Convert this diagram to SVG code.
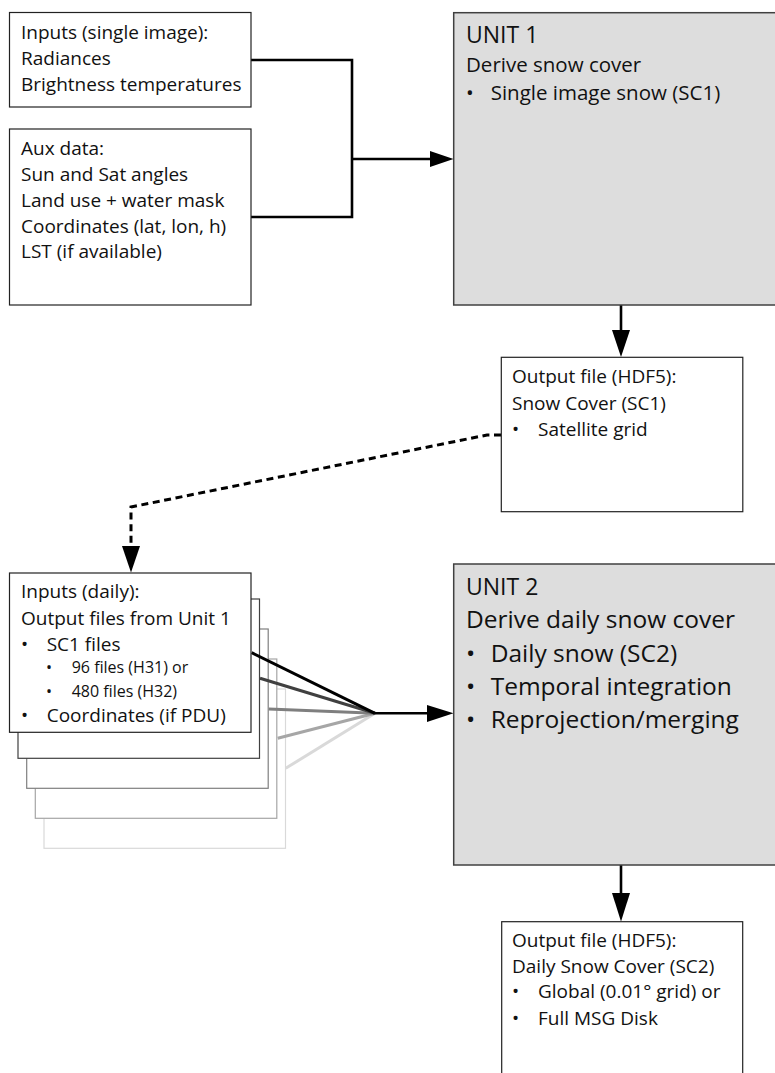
<svg xmlns="http://www.w3.org/2000/svg" width="775" height="1073" viewBox="0 0 775 1073">
<style>
text { font-family: "Open Sans", "Lato", "Liberation Sans", sans-serif; fill: #111; }
.t { font-size: 19px; }
.ts { font-size: 16px; }
.box { fill: #fff; stroke: #222; stroke-width: 1.2; }
.unit { fill: #dddddd; stroke: #404040; stroke-width: 1.5; }
.title { font-size: 23px; }
.u1 { font-size: 20.5px; }
.u2 { font-size: 24.5px; }
.conn { fill: none; stroke: #000; stroke-width: 2.6; }
.dash { fill: none; stroke: #000; stroke-width: 3; stroke-dasharray: 7 4.6; }
.head { fill: #000; }
</style>
<rect width="775" height="1073" fill="#fff"/>

<g id="stack">
  <rect x="44" y="689" width="241.5" height="159.3" fill="#fff" stroke="#d9d9d9" stroke-width="1.2"/>
  <rect x="35.3" y="659" width="241.5" height="159.3" fill="#fff" stroke="#a6a6a6" stroke-width="1.2"/>
  <rect x="26.7" y="629" width="241.5" height="159.3" fill="#fff" stroke="#7f7f7f" stroke-width="1.2"/>
  <rect x="18" y="599" width="241.5" height="159.3" fill="#fff" stroke="#404040" stroke-width="1.2"/>
</g>

<g id="connectors">
  <path class="conn" d="M251,60 H352 V217 H251"/>
  <path class="conn" d="M352,159 H432"/>
  <polygon class="head" points="430,151 453.5,159 430,167"/>
  <path class="conn" d="M621,305 V332"/>
  <polygon class="head" points="612,330 621,357 630,330"/>
  <path class="dash" d="M501,435 H487 L131,507 V548"/>
  <polygon class="head" points="122,546 131,572.5 140,546"/>
  <line x1="285.7" y1="768.3" x2="375" y2="713.3" stroke="#d9d9d9" stroke-width="3"/>
  <line x1="277.7" y1="738.3" x2="375" y2="713.3" stroke="#a6a6a6" stroke-width="3"/>
  <line x1="268.7" y1="709" x2="375" y2="713.3" stroke="#7f7f7f" stroke-width="3"/>
  <line x1="260" y1="678.3" x2="375" y2="713.3" stroke="#404040" stroke-width="3"/>
  <line x1="251.7" y1="652.7" x2="375" y2="713.3" stroke="#000" stroke-width="3"/>
  <path class="conn" d="M375,713.3 H430"/>
  <polygon class="head" points="427,705 453.5,713.3 427,722"/>
  <path class="conn" d="M621,865 V895"/>
  <polygon class="head" points="612,893 621,921.5 630,893"/>
</g>

<g id="inputs-single">
  <rect class="box" x="9.5" y="12.5" width="241.5" height="94.5"/>
  <text class="t" x="21" y="39">Inputs (single image):</text>
  <text class="t" x="21" y="65">Radiances</text>
  <text class="t" x="21" y="90.7">Brightness temperatures</text>
</g>

<g id="aux-data">
  <rect class="box" x="9.5" y="129" width="241.5" height="176"/>
  <text class="t" x="21" y="155">Aux data:</text>
  <text class="t" x="21" y="181">Sun and Sat angles</text>
  <text class="t" x="21" y="207">Land use + water mask</text>
  <text class="t" x="21" y="232.5">Coordinates (lat, lon, h)</text>
  <text class="t" x="21" y="258">LST (if available)</text>
</g>

<g id="unit1">
  <rect class="unit" x="453.7" y="12.7" width="330" height="292.3"/>
  <text class="title" x="466" y="43">UNIT 1</text>
  <text class="u1" x="466" y="72">Derive snow cover</text>
  <text class="u1" x="466" y="99.5">•</text>
  <text class="u1" x="490.7" y="99.5">Single image snow (SC1)</text>
</g>

<g id="output1">
  <rect class="box" x="501.3" y="357.3" width="241.5" height="154.4"/>
  <text class="t" x="512" y="383.3">Output file (HDF5):</text>
  <text class="t" x="512" y="410">Snow Cover (SC1)</text>
  <text class="t" x="512" y="435.7">•</text>
  <text class="t" x="538" y="435.7">Satellite grid</text>
</g>

<g id="inputs-daily">
  <rect class="box" x="9.5" y="573" width="241.5" height="159.3"/>
  <text class="t" x="21" y="598">Inputs (daily):</text>
  <text class="t" x="21" y="625">Output files from Unit 1</text>
  <text class="t" x="21" y="650.7">•</text>
  <text class="t" x="46.7" y="650.7">SC1 files</text>
  <text class="ts" x="46" y="673">•</text>
  <text class="ts" x="71.7" y="673">96 files (H31) or</text>
  <text class="ts" x="46" y="696.7">•</text>
  <text class="ts" x="71.7" y="696.7">480 files (H32)</text>
  <text class="t" x="21" y="721.7">•</text>
  <text class="t" x="46.7" y="721.7">Coordinates (if PDU)</text>
</g>

<g id="unit2">
  <rect class="unit" x="453.7" y="564" width="330" height="301"/>
  <text class="title" x="466" y="595">UNIT 2</text>
  <text class="u2" x="466" y="628">Derive daily snow cover</text>
  <text class="u2" x="466" y="662">•</text>
  <text class="u2" x="490.7" y="662">Daily snow (SC2)</text>
  <text class="u2" x="466" y="695">•</text>
  <text class="u2" x="490.7" y="695">Temporal integration</text>
  <text class="u2" x="466" y="728">•</text>
  <text class="u2" x="490.7" y="728">Reprojection/merging</text>
</g>

<g id="output2">
  <rect class="box" x="501.7" y="921.7" width="241" height="170"/>
  <text class="t" x="512" y="947">Output file (HDF5):</text>
  <text class="t" x="512" y="973">Daily Snow Cover (SC2)</text>
  <text class="t" x="512" y="998">•</text>
  <text class="t" x="538" y="998">Global (0.01° grid) or</text>
  <text class="t" x="512" y="1025">•</text>
  <text class="t" x="538" y="1025">Full MSG Disk</text>
</g>
</svg>
